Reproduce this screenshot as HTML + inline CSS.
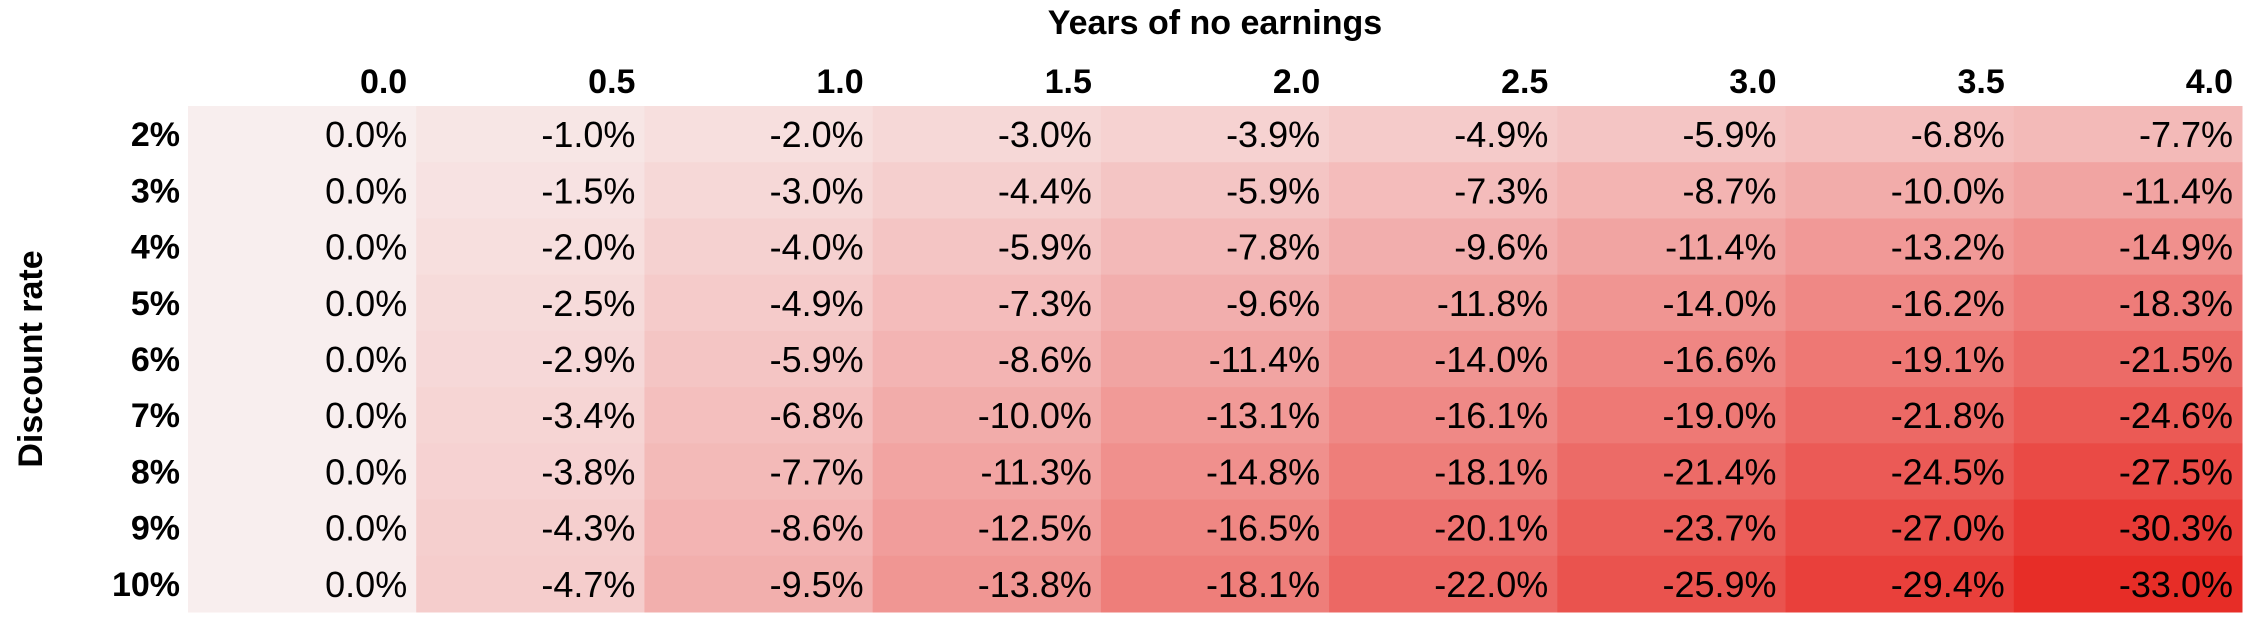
<!DOCTYPE html>
<html><head><meta charset="utf-8"><style>
body{margin:0;width:2256px;height:624px;background:#fff;overflow:hidden;font-family:"Liberation Sans",sans-serif;}
</style></head><body>
<svg width="2256" height="624" id="chart" style="font-family:'Liberation Sans',sans-serif">
<text x="1215" y="34" text-anchor="middle" font-weight="bold" font-size="34">Years of no earnings</text>
<text transform="translate(42,359) rotate(-90)" text-anchor="middle" font-weight="bold" font-size="34">Discount rate</text>
</svg>
<script>
const years=["0.0","0.5","1.0","1.5","2.0","2.5","3.0","3.5","4.0"];
const rates=["2%","3%","4%","5%","6%","7%","8%","9%","10%"];
const values=[
[0.0,-1.0,-2.0,-3.0,-3.9,-4.9,-5.9,-6.8,-7.7],
[0.0,-1.5,-3.0,-4.4,-5.9,-7.3,-8.7,-10.0,-11.4],
[0.0,-2.0,-4.0,-5.9,-7.8,-9.6,-11.4,-13.2,-14.9],
[0.0,-2.5,-4.9,-7.3,-9.6,-11.8,-14.0,-16.2,-18.3],
[0.0,-2.9,-5.9,-8.6,-11.4,-14.0,-16.6,-19.1,-21.5],
[0.0,-3.4,-6.8,-10.0,-13.1,-16.1,-19.0,-21.8,-24.6],
[0.0,-3.8,-7.7,-11.3,-14.8,-18.1,-21.4,-24.5,-27.5],
[0.0,-4.3,-8.6,-12.5,-16.5,-20.1,-23.7,-27.0,-30.3],
[0.0,-4.7,-9.5,-13.8,-18.1,-22.0,-25.9,-29.4,-33.0]];
const svg=document.getElementById('chart');
const NS='http://www.w3.org/2000/svg';
const x0=188,x1=2242,y0=106,y1=612;
const cw=(x1-x0)/years.length, rh=(y1-y0)/rates.length;
const xPos=i=>x0+i*cw, yPos=j=>y0+j*rh;
const minV=Math.min(...values.flat());
function color(v){const t=Math.pow(v/minV,0.9);const a=[248,238,238],b=[231,45,39];
return 'rgb('+a.map((c,k)=>Math.round(c+(b[k]-c)*t)).join(',')+')';}
function mk(tag,attrs,txt){const e=document.createElementNS(NS,tag);for(const k in attrs)e.setAttribute(k,attrs[k]);if(txt!==undefined)e.textContent=txt;svg.appendChild(e);return e;}
years.forEach((y,i)=>{
const t=mk('text',{x:xPos(i+1)-9,y:93,'text-anchor':'end','font-weight':'bold','font-size':34},y);


});
rates.forEach((r,j)=>{
const t=mk('text',{x:180,y:yPos(j)+rh/2+12,'text-anchor':'end','font-weight':'bold','font-size':34},r);


values[j].forEach((v,i)=>{
const c=mk('rect',{x:xPos(i),y:yPos(j),width:cw+0.5,height:rh+0.5,fill:color(v)});


});
});
rates.forEach((r,j)=>{values[j].forEach((v,i)=>{
const t=mk('text',{x:xPos(i+1)-9,y:yPos(j)+rh/2+13,'text-anchor':'end','font-size':36},v.toFixed(1)+'%');


});});
</script>
</body></html>
